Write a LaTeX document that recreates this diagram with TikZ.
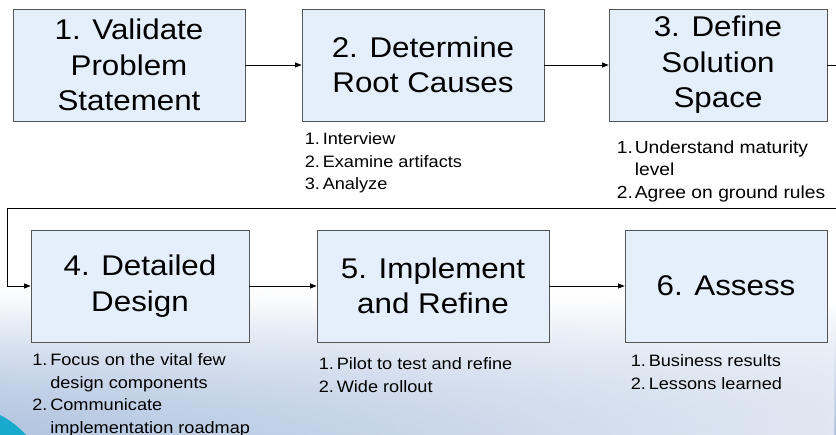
\documentclass[tikz,border=0pt]{standalone}
\usepackage{fontspec}
\setmainfont[FakeStretch=1.1]{Liberation Sans}
\usepackage{xcolor}
\definecolor{boxblue}{RGB}{229, 238, 251}
\definecolor{boxgray}{RGB}{85, 85, 85}
\definecolor{bgblue}{RGB}{178, 197, 224}
\definecolor{accentcyan}{RGB}{24, 170, 204}
\usepackage{tikz}
\usetikzlibrary{arrows.meta, positioning, calc, fadings}

\newcommand{\stepnum}[1]{\makebox[18pt][l]{#1}}

\tikzset{
  stepbox/.style={draw=boxgray, line width=0.8pt, fill=boxblue, minimum height=112pt,
    inner sep=0pt, align=center, font=\fontsize{28.5}{35.5}\selectfont},
  steplist/.style={anchor=north west, inner sep=0pt, align=left,
    font=\fontsize{16.5}{22.5}\selectfont},
  flow/.style={->, line width=0.8pt},
}

\begin{document}
\begin{tikzpicture}[x=1pt, y=-1pt, >={Triangle[length=6.5pt, width=5pt]}]
    \clip (0,0) rectangle (836,435);
    % background
    \fill[white] (0,0) rectangle (836,435);
    \shade[top color=white, bottom color=bgblue] (0,300) rectangle (836,435);
    \shade[left color=bgblue, right color=white, path fading=north, opacity=0.6] (0,280) rectangle (836,435);
    \fill[accentcyan] (0,415) .. controls (10,420) and (20,428) .. (26,435) -- (0,435) -- cycle;

    % steps
    \node[stepbox, minimum width=232pt] (b1) at (129,65) {1. Validate\\Problem\\Statement};
    \node[stepbox, minimum width=242pt] (b2) at (423,65) {2. Determine\\Root Causes};
    \node[stepbox, minimum width=218pt] (b3) at (718,65) {3. Define\\Solution\\Space};
    \node[stepbox, minimum width=218pt] (b4) at (140,286) {4. Detailed\\Design};
    \node[stepbox, minimum width=232pt] (b5) at (433,286) {5. Implement\\and Refine};
    \node[stepbox, minimum width=202pt] (b6) at (726,286) {6. Assess};

    % sub-steps
    \node[steplist] (l2) at ($(b2.south west)+(3,11)$)
        {\stepnum{1.}Interview\\\stepnum{2.}Examine artifacts\\\stepnum{3.}Analyze};
    \node[steplist, font=\fontsize{17.5}{22.5}\selectfont] (l3) at ($(b3.south west)+(8,19)$)
        {\stepnum{1.}Understand maturity\\\stepnum{}level\\\stepnum{2.}Agree on ground rules};
    \node[steplist] (l4) at ($(b4.south west)+(1.5,11)$)
        {\stepnum{1.}Focus on the vital few\\\stepnum{}design components\\\stepnum{2.}Communicate\\\stepnum{}implementation roadmap};
    \node[steplist] (l5) at ($(b5.south west)+(2,15)$)
        {\stepnum{1.}Pilot to test and refine\\\stepnum{2.}Wide rollout};
    \node[steplist] (l6) at ($(b6.south west)+(6,12)$)
        {\stepnum{1.}Business results\\\stepnum{2.}Lessons learned};

    % flow
    \coordinate (loopright) at (850,208);
    \coordinate (loopleft) at (7,208);
    \draw[flow] (b1) -- (b2);
    \draw[flow] (b2) -- (b3);
    \draw[flow] (b3.east) -| (loopright) -- (loopleft) |- (b4.west);
    \draw[flow] (b4) -- (b5);
    \draw[flow] (b5) -- (b6);
\end{tikzpicture}
\end{document}
